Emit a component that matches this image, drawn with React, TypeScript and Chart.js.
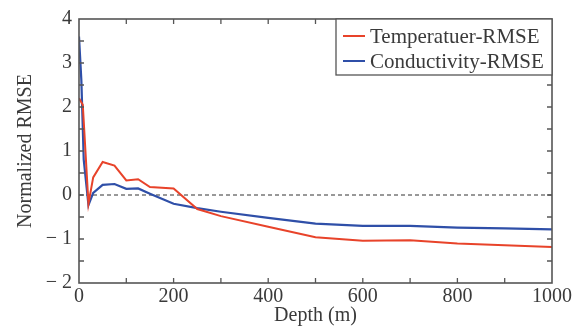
import React, { useEffect, useRef } from "react";
import { Chart, registerables } from "chart.js";

Chart.register(...registerables);

const tempX = [0, 8, 20, 30, 50, 75, 100, 125, 150, 200, 250, 300, 400, 500, 600, 700, 800, 900, 1000];
const tempY = [2.2, 2.05, -0.2, 0.4, 0.75, 0.67, 0.33, 0.36, 0.18, 0.15, -0.32, -0.48, -0.72, -0.96, -1.04, -1.03, -1.1, -1.14, -1.18];
const condX = [0, 5, 10, 20, 30, 50, 75, 100, 125, 150, 200, 250, 300, 400, 500, 600, 700, 800, 900, 1000];
const condY = [3.6, 2.6, 0.8, -0.23, 0.05, 0.23, 0.25, 0.14, 0.15, 0.03, -0.2, -0.3, -0.38, -0.52, -0.65, -0.7, -0.7, -0.74, -0.76, -0.78];
const seriesNames = ["Temperatuer-RMSE", "Conductivity-RMSE"];
const seriesColors = ["#e8432a", "#2f4fa8"];
const xTickValues = [0, 200, 400, 600, 800, 1000];
const yTickValues = [-2, -1, 0, 1, 2, 3, 4];
const xMinorTicks = [100, 200, 300, 400, 500, 600, 700, 800, 900];
const yMinorTicks = [-1.5, -1, -0.5, 0, 0.5, 1, 1.5, 2, 2.5, 3, 3.5];

const FONT = "'Liberation Serif', 'Times New Roman', serif";
const TEXT = "#3a3a3a";
const FRAME = "#555555";

const framePlugin = {
  id: "frameTicks",
  afterDatasetsDraw(chart: any) {
    const { ctx, chartArea: a, scales } = chart;
    const x = scales.x, y = scales.y;
    ctx.save();
    ctx.strokeStyle = FRAME;
    ctx.lineWidth = 1.3;
    const tl = 5;
    ctx.beginPath();
    xMinorTicks.forEach((v) => {
      const px = x.getPixelForValue(v);
      ctx.moveTo(px, a.bottom);
      ctx.lineTo(px, a.bottom - tl);
      ctx.moveTo(px, a.top);
      ctx.lineTo(px, a.top + tl);
    });
    yMinorTicks.forEach((v) => {
      const py = y.getPixelForValue(v);
      ctx.moveTo(a.left, py);
      ctx.lineTo(a.left + tl, py);
      ctx.moveTo(a.right, py);
      ctx.lineTo(a.right - tl, py);
    });
    ctx.stroke();
    ctx.lineWidth = 1.6;
    ctx.strokeRect(a.left, a.top, a.right - a.left, a.bottom - a.top);

    // legend
    const bx = 336, by = a.top, bw = a.right - bx, bh = 56;
    ctx.fillStyle = "#ffffff";
    ctx.fillRect(bx, by, bw, bh);
    ctx.lineWidth = 1.3;
    ctx.strokeStyle = FRAME;
    ctx.strokeRect(bx, by, bw, bh);
    ctx.font = `21px ${FONT}`;
    ctx.textBaseline = "middle";
    ctx.textAlign = "left";
    seriesNames.forEach((name, i) => {
      const cy = by + 17 + i * 25;
      ctx.strokeStyle = seriesColors[i];
      ctx.lineWidth = 2;
      ctx.beginPath();
      ctx.moveTo(343, cy);
      ctx.lineTo(365, cy);
      ctx.stroke();
      ctx.fillStyle = TEXT;
      ctx.fillText(name, 370, cy + 1);
    });
    ctx.restore();
  },
};

export default function App() {
  const ref = useRef<HTMLCanvasElement>(null);
  useEffect(() => {
    document.body.style.margin = "0";
    const chart = new Chart(ref.current!, {
      type: "line",
      data: {
        datasets: [
          {
            label: seriesNames[0],
            data: tempX.map((v, i) => ({ x: v, y: tempY[i] })),
            borderColor: seriesColors[0],
            borderWidth: 2,
            pointRadius: 0,
            tension: 0,
          },
          {
            label: seriesNames[1],
            data: condX.map((v, i) => ({ x: v, y: condY[i] })),
            borderColor: seriesColors[1],
            borderWidth: 2.2,
            pointRadius: 0,
            tension: 0,
          },
          {
            label: "zero",
            data: [{ x: 0, y: 0 }, { x: 1000, y: 0 }],
            borderColor: "#333333",
            borderWidth: 1,
            borderDash: [4, 3],
            pointRadius: 0,
          },
        ],
      },
      options: {
        animation: false,
        responsive: false,
        layout: { padding: { top: 14, right: 28, left: 0, bottom: 0 } },
        plugins: { legend: { display: false }, tooltip: { enabled: false } },
        scales: {
          x: {
            type: "linear",
            min: 0,
            max: 1000,
            afterFit: (s: any) => { s.height = 46; },
            afterBuildTicks: (s: any) => { s.ticks = xTickValues.map((v) => ({ value: v })); },
            grid: { display: false, drawTicks: false },
            border: { display: false },
            ticks: { font: { family: FONT, size: 20 }, color: TEXT, padding: 2, maxRotation: 0, callback: (v: any) => String(v) },
            title: { display: true, text: "Depth (m)", font: { family: FONT, size: 20 }, color: TEXT, padding: { top: 0, bottom: 1 } },
          },
          y: {
            type: "linear",
            min: -2,
            max: 4,
            afterFit: (s: any) => { s.width = 79; },
            afterBuildTicks: (s: any) => { s.ticks = yTickValues.map((v) => ({ value: v })); },
            grid: { display: false, drawTicks: false },
            border: { display: false },
            ticks: {
              font: { family: FONT, size: 20 },
              color: TEXT,
              padding: 7,
              callback: (v: any) => (Number(v) < 0 ? "\u2212 " + Math.abs(Number(v)) : String(v)),
            },
            title: { display: true, text: "Normalized RMSE", font: { family: FONT, size: 20 }, color: TEXT, padding: { top: 14, bottom: 0 } },
          },
        },
      },
      plugins: [framePlugin],
    });
    return () => chart.destroy();
  }, []);
  return <canvas ref={ref} width={580} height={329} style={{ display: "block" }} />;
}
